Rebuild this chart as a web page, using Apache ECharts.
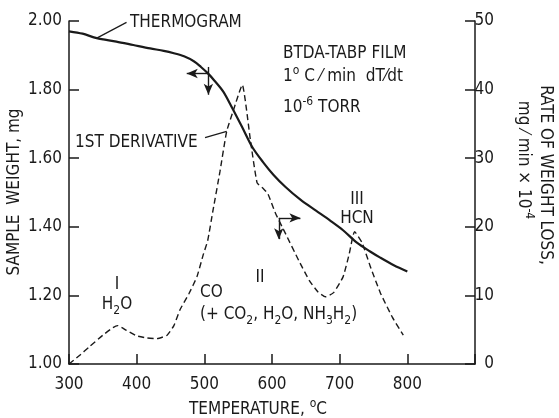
<!DOCTYPE html>
<html>
<head>
<meta charset="utf-8">
<script src="https://cdn.jsdelivr.net/npm/echarts@6/dist/echarts.min.js"></script>
<style>
  html, body { margin: 0; padding: 0; background: #fff; }
  #chart { width: 559px; height: 418px; }
</style>
</head>
<body>
<div id="chart"></div>
<script>
// Thermogram: sample weight (mg) against temperature (deg C)
const thermoTemp = [300, 320, 341, 370, 395, 420, 440, 455, 470, 485, 495, 505, 515, 528, 541, 556, 571, 587, 602, 620, 642, 665, 686, 705, 726, 745, 760, 780, 800];
const thermoWeight = [1.970, 1.963, 1.950, 1.940, 1.930, 1.920, 1.913, 1.906, 1.897, 1.882, 1.866, 1.848, 1.826, 1.794, 1.747, 1.690, 1.632, 1.588, 1.552, 1.516, 1.479, 1.447, 1.418, 1.390, 1.353, 1.328, 1.310, 1.288, 1.270];

// First derivative: rate of weight loss (mg/min x 10^-4)
const derivTemp = [300, 315, 330, 350, 365, 372, 385, 400, 415, 430, 445, 455, 464, 477, 489, 498, 505, 513, 523, 533, 543, 556, 568, 578, 587, 594, 605, 620, 640, 655, 668, 679, 691, 705, 714, 722, 733, 745, 760, 778, 794];
const derivRate = [0, 1.2, 2.5, 4.2, 5.3, 5.6, 4.9, 4.1, 3.8, 3.7, 4.2, 5.6, 7.9, 10.2, 12.7, 15.8, 18.0, 22.5, 28.0, 33.9, 37.0, 40.7, 32.7, 26.4, 25.6, 24.8, 22.0, 19.0, 15.0, 12.2, 10.5, 9.8, 10.4, 12.7, 16.0, 19.3, 17.7, 14.3, 10.4, 6.8, 4.2];

// Axis ticks
const tempTicks = [300, 400, 500, 600, 700, 800];
const weightTicks = [1.00, 1.20, 1.40, 1.60, 1.80, 2.00];
const rateTicks = [0, 10, 20, 30, 40, 50];

const FONT = "'Liberation Sans Narrow','DejaVu Sans Condensed','Roboto Condensed',sans-serif";
const INK = '#1a1a1a';

const zip = (a, b) => a.map((v, i) => [v, b[i]]);

const chart = echarts.init(document.getElementById('chart'), null, { renderer: 'canvas' });

const axisCommon = {
  axisLine: { show: true, lineStyle: { color: INK, width: 1.5 } },
  axisTick: { show: true, inside: true, length: 10, lineStyle: { color: INK, width: 1.5 } },
  splitLine: { show: false },
  axisLabel: { color: INK, fontFamily: FONT, fontSize: 17 }
};

const arrowLine = (from, to, headAtEnd) => ([
  { coord: from, symbol: headAtEnd ? 'none' : 'arrow' },
  { coord: to, symbol: headAtEnd ? 'arrow' : 'none' }
]);

const sub = { fontSize: 12, lineHeight: 24, verticalAlign: 'bottom', fontFamily: FONT, fill: INK };
const sup = { fontSize: 12, lineHeight: 24, verticalAlign: 'top', fontFamily: FONT, fill: INK };
const base = { fontSize: 17, lineHeight: 24, verticalAlign: 'middle', fontFamily: FONT, fill: INK };
const richSet = { b: base, sb: sub, sp: sup };

function txt(x, y, text, align, rotation) {
  return {
    type: 'text', x: x, y: y, rotation: rotation || 0, silent: true,
    style: {
      text: text, textAlign: align || 'left', textVerticalAlign: 'middle',
      fontFamily: FONT, fontSize: 17, fill: INK, rich: richSet
    }
  };
}

const option = {
  animation: false,
  backgroundColor: '#ffffff',
  grid: { left: 69, right: 84, top: 21, bottom: 54 },
  xAxis: Object.assign({}, axisCommon, {
    type: 'value', min: 300, max: 900, interval: 100,
    axisLine: { show: true, onZero: false, lineStyle: { color: INK, width: 1.5 } },
    axisLabel: Object.assign({}, axisCommon.axisLabel, {
      margin: 12,
      formatter: v => (tempTicks.indexOf(v) >= 0 ? String(v) : '')
    })
  }),
  yAxis: [
    Object.assign({}, axisCommon, {
      type: 'value', position: 'left', min: 1, max: 2, interval: 0.2,
      axisLabel: Object.assign({}, axisCommon.axisLabel, {
        margin: 7,
        formatter: v => {
          const t = weightTicks.find(w => Math.abs(w - v) < 1e-6);
          return t === undefined ? '' : t.toFixed(2);
        }
      })
    }),
    Object.assign({}, axisCommon, {
      type: 'value', position: 'right', min: 0, max: 50, interval: 10,
      axisLabel: Object.assign({}, axisCommon.axisLabel, {
        margin: 19, align: 'right',
        formatter: v => (rateTicks.indexOf(v) >= 0 ? String(v) : '')
      })
    })
  ],
  series: [
    {
      name: 'THERMOGRAM', type: 'line', yAxisIndex: 0,
      data: zip(thermoTemp, thermoWeight),
      smooth: 0.3, symbol: 'none',
      lineStyle: { color: INK, width: 2.2 },
      markLine: {
        silent: true, symbolSize: [7, 11],
        label: { show: false },
        lineStyle: { color: INK, width: 1.4, type: 'solid' },
        emphasis: { disabled: true },
        data: [
          arrowLine([506, 1.847], [474, 1.847], true),
          arrowLine([506, 1.866], [506, 1.785], true),
          [{ coord: [341, 1.950], symbol: 'none', lineStyle: { curveness: -0.25, width: 1.2 } },
           { coord: [385, 1.996], symbol: 'none' }]
        ]
      }
    },
    {
      name: '1ST DERIVATIVE', type: 'line', yAxisIndex: 1,
      data: zip(derivTemp, derivRate),
      smooth: 0.15, symbol: 'none',
      lineStyle: { color: INK, width: 1.4, type: [6, 3.5] },
      markLine: {
        silent: true, symbolSize: [7, 11],
        label: { show: false },
        lineStyle: { color: INK, width: 1.4, type: 'solid' },
        emphasis: { disabled: true },
        data: [
          arrowLine([610, 21.3], [642, 21.3], true),
          arrowLine([610, 21.3], [610, 18.2], true),
          [{ coord: [501, 33.0], symbol: 'none', lineStyle: { curveness: 0.15, width: 1.2 } },
           { coord: [533, 33.9], symbol: 'none' }]
        ]
      }
    }
  ],
  graphic: [
    txt(130, 23, 'THERMOGRAM'),
    txt(283, 54, 'BTDA-TABP FILM'),
    txt(283, 77, '{b|1}{sp|o}{b| C ⁄ min  dT⁄dt}'),
    txt(283, 108, '{b|10}{sp|-6}{b| TORR}'),
    txt(75, 143, '1ST DERIVATIVE'),
    txt(117, 285, 'I', 'center'),
    txt(117, 305, '{b|H}{sb|2}{b|O}', 'center'),
    txt(200, 293, 'CO'),
    txt(200, 315, '{b|(+ CO}{sb|2}{b|, H}{sb|2}{b|O, NH}{sb|3}{b|H}{sb|2}{b|)}'),
    txt(260, 278, 'II', 'center'),
    txt(357, 200, 'III', 'center'),
    txt(357, 219, 'HCN', 'center'),
    txt(258, 410, '{b|TEMPERATURE, }{sp|o}{b|C}', 'center'),
    txt(15, 192, 'SAMPLE  WEIGHT, mg', 'center', Math.PI / 2),
    txt(545, 175, 'RATE OF WEIGHT LOSS,', 'center', -Math.PI / 2),
    txt(523, 160, '{b|mg ⁄ min × 10}{sp|-4}', 'center', -Math.PI / 2)
  ]
};

chart.setOption(option);
</script>
</body>
</html>
